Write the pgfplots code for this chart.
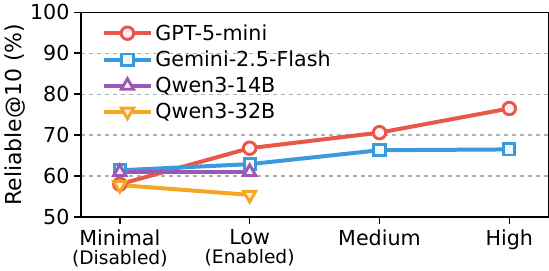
\documentclass[border=0pt]{standalone}
\usepackage{fontspec}
\setmainfont{DejaVu Sans}
\usepackage{pgfplots}
\pgfplotsset{compat=1.18}
\definecolor{cred}{HTML}{E8574A}
\definecolor{cblue}{HTML}{3A9ADB}
\definecolor{cpurple}{HTML}{9B59B6}
\definecolor{corange}{HTML}{F5A623}
\begin{document}
\begin{tikzpicture}
\begin{axis}[
  scale only axis,
  width=351pt, height=153.75pt,
  xmin=-0.3, xmax=3.3,
  ymin=50, ymax=100,
  xtick={0,1,2,3},
  xticklabels={{Minimal\\[-3pt]{\fontsize{14}{16}\selectfont (Disabled)}},{Low\\[-3pt]{\fontsize{14}{16}\selectfont (Enabled)}},Medium,High},
  xticklabel style={align=center, anchor=north, yshift=-1pt},
  ytick={50,60,70,80,90,100},
  ylabel={Reliable@10 (\%)},
  ylabel style={font=\fontsize{16.5}{18}\selectfont, yshift=-3pt},
  tick label style={font=\fontsize{15.5}{17}\selectfont},
  /pgf/number format/assume math mode=true,
  tick align=outside,
  major tick length=5pt,
  tick style={line width=1.1pt, black},
  xtick pos=bottom, ytick pos=left,
  axis line style={line width=1.1pt},
  ymajorgrids,
  grid style={dashed, gray!60, line width=0.9pt},
  legend style={at={(0.045,0.955)}, anchor=north west, draw=none, fill=none,
    font=\fontsize{15.5}{17}\selectfont, row sep=2.5pt, inner sep=0pt,
    nodes={inner sep=2pt}},
  legend cell align=left,
  legend image code/.code={\draw[mark repeat=2,mark phase=2,#1] plot coordinates {(0pt,0pt) (17.5pt,0pt) (35pt,0pt)};},
  every axis plot/.append style={line width=3pt, mark size=4.7pt},
]
\addplot[color=cred, mark=*, mark options={line width=2.2pt, fill=cred!8!white}] coordinates {(0,58.0) (1,66.8) (2,70.6) (3,76.5)};
\addlegendentry{GPT-5-mini}
\addplot[color=cblue, mark=square*, mark options={line width=2.2pt, fill=cblue!8!white, mark size=4.2pt}] coordinates {(0,61.4) (1,62.9) (2,66.3) (3,66.5)};
\addlegendentry{Gemini-2.5-Flash}
\addplot[color=cpurple, mark=triangle*, mark options={line width=2.2pt, fill=cpurple!8!white, mark size=5.3pt}] coordinates {(0,61.0) (1,61.0)};
\addlegendentry{Qwen3-14B}
\addplot[color=corange, mark=triangle*, mark options={line width=2.2pt, fill=corange!8!white, mark size=5.3pt, rotate=180}] coordinates {(0,57.8) (1,55.4)};
\addlegendentry{Qwen3-32B}
\end{axis}
\end{tikzpicture}
\end{document}
